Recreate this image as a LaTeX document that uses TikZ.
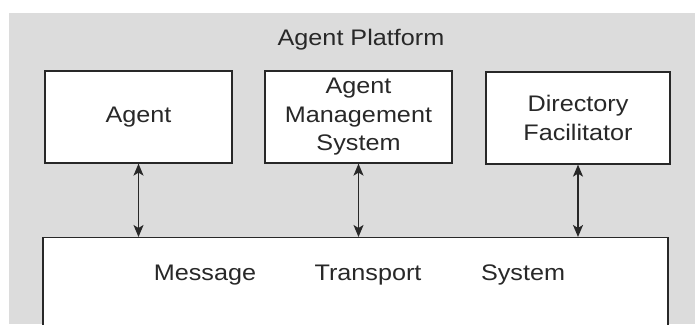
\documentclass[tikz,border=0pt]{standalone}
\usepackage{fontspec}
\setmainfont[FakeStretch=1.12]{Liberation Sans}
\usetikzlibrary{arrows.meta}
\definecolor{platformgray}{RGB}{220,220,220}
\definecolor{ink}{RGB}{40,40,40}
\tikzset{
  unitbox/.style={draw=ink, line width=1.2pt, fill=white, inner sep=0pt,
    align=center, text=ink, minimum height=92pt},
  twoway/.style={draw=ink, line width=1.6pt,
    {Stealth[length=12pt,width=10pt,inset=3pt]}-{Stealth[length=12pt,width=10pt,inset=3pt]}},
  caption/.style={text=ink, inner sep=0pt, anchor=base}
}
\begin{document}
\begin{tikzpicture}[x=1pt, y=1pt,
  every node/.append style={font=\fontsize{22.5}{28.5}\selectfont}]
\useasboundingbox (0,-324) rectangle (695,0);
\clip (0,-324) rectangle (695,0);
% platform area
\fill[platformgray] (9,-13) rectangle (695,-324);
\node[caption] (title) at (361,-45) {Agent Platform};
% platform components
\node[unitbox, minimum width=187pt] (agent) at (138.5,-117) {Agent};
\node[unitbox, minimum width=187pt] (ams) at (358.5,-117) {Agent\\Management\\System};
\node[unitbox, minimum width=184pt] (df) at (578,-118) {Directory\\Facilitator};
% message transport system (runs past the lower edge)
\node[unitbox, minimum width=625pt, minimum height=110pt, anchor=north] (mts) at (355.5,-237) {};
\node[caption] (msg) at (205,-280) {Message};
\node[caption] (trans) at (368,-280) {Transport};
\node[caption] (sys) at (523,-280) {System};
% connections to the transport system
\draw[twoway] (agent.south) -- (agent.south |- mts.north);
\draw[twoway] (ams.south) -- (ams.south |- mts.north);
\draw[twoway] (df.south) -- (df.south |- mts.north);
\end{tikzpicture}
\end{document}
